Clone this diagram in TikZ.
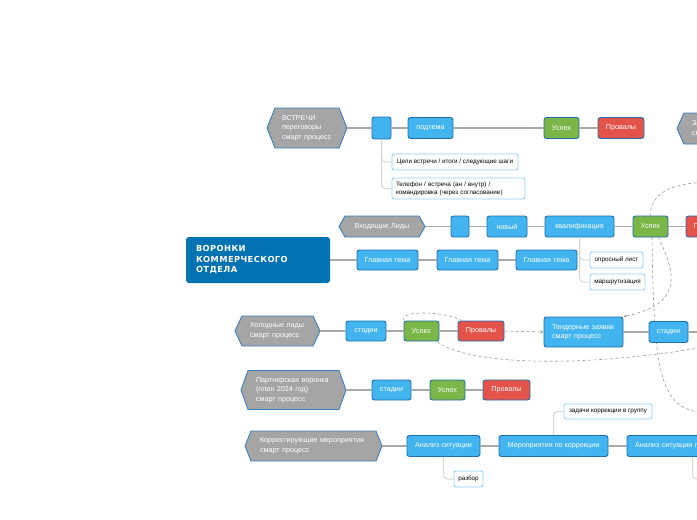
\documentclass[tikz,border=0pt]{standalone}
\usepackage{fontspec}
\setmainfont{Liberation Sans}
\newfontfamily\rootfont{DejaVu Sans}[LetterSpace=5.0]
\usetikzlibrary{arrows.meta}
\definecolor{lblue}{HTML}{42B5F0}
\definecolor{bdr}{HTML}{1E6FB0}
\definecolor{sgreen}{HTML}{7AB648}
\definecolor{sred}{HTML}{E4534A}
\definecolor{hexgray}{HTML}{A5A5A5}
\definecolor{hexbdr}{HTML}{3A80BF}
\definecolor{rootblue}{HTML}{0272B2}
\definecolor{kidbdr}{HTML}{8ED2F6}
\definecolor{linegray}{HTML}{A8A8A8}
\definecolor{kidgray}{HTML}{D6D6D6}
\definecolor{relgray}{HTML}{9A9A9A}
\newcommand\hexa[8]{%
 \pgfmathsetmacro\hxl{#2-#4/2}\pgfmathsetmacro\hxr{#2+#4/2}%
 \pgfmathsetmacro\hxt{#3-#5/2}\pgfmathsetmacro\hxb{#3+#5/2}%
 \pgfmathsetmacro\hxtw{#4-30}%
 \filldraw[hexshape] (\hxl,#3) -- (\hxl+#6,\hxt) -- (\hxr-#6,\hxt) -- (\hxr,#3) -- (\hxr-#6,\hxb) -- (\hxl+#6,\hxb) -- cycle;
 \node[hextext, minimum width=#4pt, minimum height=#5pt, text width=\hxtw pt, #7] (#1) at (#2,#3) {#8};
}
\begin{document}
\begin{tikzpicture}[x=1pt,y=-1pt,
 box/.style={rectangle, rounded corners=2.5pt, draw=bdr, line width=0.9pt, fill=lblue, text=white, font=\fontsize{7.2}{9}\selectfont, inner sep=0pt, minimum height=21pt},
 okbox/.style={box, fill=sgreen},
 failbox/.style={box, fill=sred},
 kid/.style={rectangle, rounded corners=2pt, draw=kidbdr, line width=0.9pt, fill=white, text=black, font=\fontsize{6.3}{8}\selectfont, inner sep=0pt, minimum height=16pt},
 link/.style={draw=linegray, line width=1.4pt},
 kidlink/.style={draw=kidgray, line width=1pt, rounded corners=4pt},
 rel/.style={draw=relgray, line width=0.6pt, dash pattern=on 3pt off 2.5pt},
 hexshape/.style={fill=hexgray, draw=hexbdr, line width=0.9pt},
 hextext/.style={rectangle, inner xsep=15pt, inner ysep=0pt, text=white, font=\fontsize{7.2}{9.6}\selectfont, align=left},
 root/.style={rectangle, rounded corners=3pt, fill=rootblue, text=white, minimum width=144pt, minimum height=46pt, inner xsep=10pt, inner ysep=0pt, text width=124pt, align=left, font={\rootfont\bfseries\fontsize{8.3}{10.5}\selectfont}}
]
\useasboundingbox (0,0) rectangle (697,520);
\clip (0,0) rectangle (697,520);

% dashed relations (behind everything)
\draw[rel] (652,237) .. controls (654,380) and (660,412) .. (710,413);
\draw[rel] (650,216) .. controls (651,192) and (672,183) .. (710,182);
\draw[rel] (437,342) .. controls (475,368) and (600,366) .. (710,346);

% hexagons
\hexa{meet}{307}{128}{80}{40}{8}{}{ВСТРЕЧИ\\переговоры\\смарт процесс}
\hexa{zay}{717}{128.5}{80}{31}{7}{}{Заявки\\смарт процесс}
\hexa{inc}{382}{226.5}{86}{21}{6}{align=center}{Входящие Лиды}
\hexa{cold}{277.5}{331}{85}{30}{7}{}{Холодные лиды\\смарт процесс}
\hexa{part}{293.5}{390}{105}{39}{7}{}{Партнерская воронка\\(план 2024 год)\\смарт процесс}
\hexa{corr}{313.5}{446}{137}{30}{6}{}{Корректирующие мероприятия\\смарт процесс}

% root
\node[root] (root) at (258,260) {ВОРОНКИ\\КОММЕРЧЕСКОГО\\ОТДЕЛА};

% row 1
\node[box, minimum width=19pt, minimum height=22pt] (bm) at (381.5,128) {};
\node[box, minimum width=45pt] (sub) at (430.5,128) {подтема};
\node[okbox, minimum width=35pt] (s1) at (561.5,128) {Успех};
\node[failbox, minimum width=46pt] (f1) at (621,128) {Провалы};
\node[kid, minimum width=126pt] (c1) at (455,162) {Цели встречи / итоги / следующие шаги};
\node[kid, minimum width=133pt, minimum height=21pt, text width=125pt, align=left] (c2) at (458.5,188.5) {Телефон / встреча (ан / внутр) /\\командировка (через согласование)};

% row incoming
\node[box, minimum width=18pt] (bi) at (460,226.5) {};
\node[box, minimum width=40pt] (new) at (507,226.5) {новый};
\node[box, minimum width=69pt] (qual) at (579.5,226.5) {квалификация};
\node[okbox, minimum width=35pt] (s2) at (650.5,226.5) {Успех};
\node[failbox, minimum width=46pt] (f2) at (709,226.5) {Провалы};
\node[kid, minimum width=53pt] (c3) at (616.5,260) {опросный лист};
\node[kid, minimum width=55pt] (c4) at (617.5,282) {маршрутизация};

% main topics
\node[box, minimum width=61pt, minimum height=20pt] (m1) at (387.5,260) {Главная тема};
\node[box, minimum width=61pt, minimum height=20pt] (m2) at (467.5,260) {Главная тема};
\node[box, minimum width=61pt, minimum height=20pt] (m3) at (546.5,260) {Главная тема};

% cold row
\node[box, minimum width=40pt, minimum height=20pt] (st1) at (366,331) {стадии};
\node[okbox, minimum width=35pt, minimum height=20pt] (s3) at (421.5,331) {Успех};
\node[failbox, minimum width=46pt, minimum height=20pt] (f3) at (481,331) {Провалы};
\node[box, minimum width=79pt, minimum height=30pt, inner xsep=8pt, text width=63pt, align=left] (tender) at (583.5,332) {Тендерные заявки\\смарт процесс};
\node[box, minimum width=39pt] (st2) at (668.5,332) {стадии};
\coordinate (st2r) at (710,332);

% partner row
\node[box, minimum width=39pt, minimum height=20pt] (st3) at (391.5,390) {стадии};
\node[okbox, minimum width=35pt, minimum height=20pt] (s4) at (447.5,390) {Успех};
\node[failbox, minimum width=47pt, minimum height=20pt] (f4) at (506.5,390) {Провалы};

% correction row
\node[box, minimum width=73pt] (an1) at (443.5,446) {Анализ ситуации};
\node[box, minimum width=109pt] (mer) at (553.5,446) {Мероприятия по коррекции};
\node[box, minimum width=110pt, inner xsep=8pt, text width=94pt, align=left] (an2) at (682,446) {Анализ ситуации после};
\node[kid, minimum width=88pt, minimum height=15pt] (c5) at (608,411.5) {задачи коррекции в группу};
\node[kid, minimum width=29pt] (c6) at (468.5,479) {разбор};
\coordinate (an2k) at (720,479);

% main links
\draw[link] (meet.east) -- (bm.west);
\draw[link] (bm) -- (sub);
\draw[link] (sub) -- (s1);
\draw[link] (s1) -- (f1);
\draw[link] (inc.east) -- (bi.west);
\draw[link] (bi) -- (new);
\draw[link] (new) -- (qual);
\draw[link] (qual) -- (s2);
\draw[link] (s2) -- (f2);
\draw[link] (root.east) -- (m1.west);
\draw[link] (m1) -- (m2);
\draw[link] (m2) -- (m3);
\draw[link] (cold.east) -- (st1.west);
\draw[link] (st1) -- (s3);
\draw[link] (s3) -- (f3);
\draw[link] (tender) -- (st2);
\draw[link] (st2) -- (st2r);
\draw[link] (part.east) -- (st3.west);
\draw[link] (st3) -- (s4);
\draw[link] (s4) -- (f4);
\draw[link] (corr.east) -- (an1.west);
\draw[link] (an1) -- (mer);
\draw[link] (mer) -- (an2);

% child links
\draw[kidlink] (bm.south) |- (c1.west);
\draw[kidlink] (bm.south) |- (c2.west);
\draw[kidlink] (qual.south) |- (c3.west);
\draw[kidlink] (qual.south) |- (c4.west);
\draw[kidlink] (mer.north) |- (c5.west);
\draw[kidlink] (an1.south) |- (c6.west);
\draw[kidlink] ([xshift=66pt]an2.south west) |- (an2k);

% dashed relations on top
\draw[rel] (s3.north west) .. controls (399,310) and (445,311) .. ([xshift=4pt]f3.north west);
\draw[rel, -{Stealth[length=3.5pt,width=3pt]}] (f3.east) -- (tender.west);
\draw[rel, -{Stealth[length=3.5pt,width=3pt]}] (658,237) .. controls (680,280) and (678,305) .. (tender.north east);
\end{tikzpicture}
\end{document}
